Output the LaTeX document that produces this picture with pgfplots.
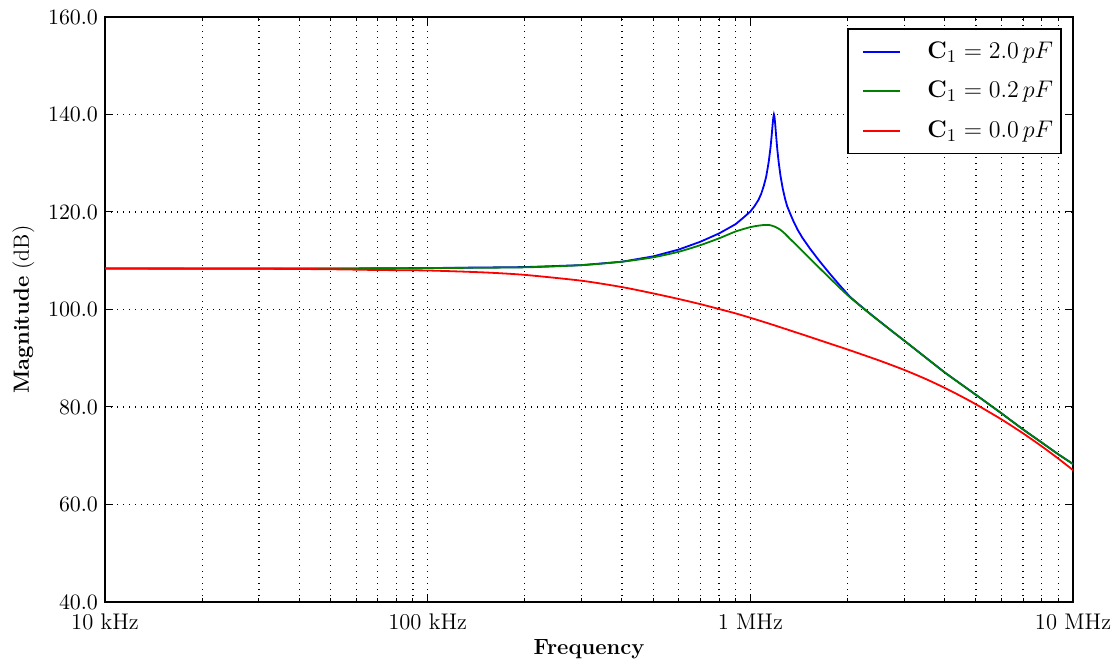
\documentclass[border=0pt]{standalone}
\usepackage{pgfplots}
\pgfplotsset{compat=1.18}
\begin{document}
\begin{tikzpicture}
\useasboundingbox (-52.5pt,-30pt) rectangle (506pt,301pt);
\begin{axis}[
  at={(0pt,0pt)}, anchor=south west,
  scale only axis, width=484pt, height=292.5pt,
  xmode=log, xmin=1e4, xmax=1e7, ymin=40, ymax=160,
  xtick={1e4,1e5,1e6,1e7},
  xticklabels={10 kHz,100 kHz,1 MHz,10 MHz},
  ytick={40,60,80,100,120,140,160},
  yticklabel style={/pgf/number format/.cd, fixed, fixed zerofill, precision=1},
  tick label style={font=\fontsize{11.3}{13}\selectfont},
  xticklabel style={yshift=-2.5pt},
  xmajorgrids, xminorgrids, ymajorgrids,
  grid style={black, line width=0.6pt, dash pattern=on 0.6pt off 2.4pt},
  major grid style={black, line width=0.6pt, dash pattern=on 0.6pt off 2.4pt},
  minor grid style={black, line width=0.6pt, dash pattern=on 0.6pt off 2.4pt},
  tick align=inside,
  major tick length=4pt, minor tick length=2pt,
  tick style={black, line width=0.5pt},
  axis line style={line width=1pt},
  xlabel={\textbf{Frequency}},
  ylabel={\textbf{Magnitude} (dB)},
  label style={font=\fontsize{11}{13}\selectfont},
  xlabel style={yshift=2pt},
  legend cell align=left,
  legend style={at={(rel axis cs:0.9886,0.981)}, anchor=north east,
    font=\fontsize{12.9}{14.5}\selectfont, draw=black, line width=0.9pt,
    inner xsep=2pt, inner ysep=4.5pt, row sep=6pt,
    /tikz/every odd column/.append style={column sep=11.5pt}},
  legend image code/.code={\path (0pt,0pt); \draw[#1] (5pt,0pt) -- (23.5pt,0pt);},
]
\addplot[blue, line width=0.9pt] table {
f v
1e4 108.4
2e4 108.4
5e4 108.4
1e5 108.5
2e5 108.7
3e5 109.1
4e5 109.8
5e5 110.9
6e5 112.3
7e5 113.9
8e5 115.6
9e5 117.5
9.5e5 118.8
1.0e6 120.1
1.03e6 121.2
1.06e6 122.5
1.08e6 123.7
1.1e6 125.3
1.12e6 127.3
1.14e6 130.3
1.155e6 133.3
1.165e6 135.9
1.172e6 137.9
1.178e6 139.4
1.183e6 140.0
1.188e6 139.5
1.194e6 138.0
1.202e6 135.6
1.212e6 132.8
1.225e6 130.0
1.24e6 127.4
1.26e6 124.8
1.28e6 122.8
1.30e6 121.2
1.33e6 119.6
1.36e6 118.1
1.40e6 116.4
1.45e6 114.7
1.53e6 112.5
1.6e6 110.8
1.644e6 109.8
1.765e6 107.3
1.896e6 104.9
2.036e6 102.6
2.186e6 100.85
2.348e6 99.15
2.767e6 95.4
3e6 93.6
4e6 87.1
5e6 82.5
6e6 78.7
7e6 75.4
8e6 72.7
9e6 70.3
1e7 68.3
};
\addlegendentry{$\mathbf{C}_1 = 2.0\,pF$}
\addplot[green!50!black, line width=0.9pt, smooth, tension=0.4] table {
f v
1e4 108.4
5e4 108.4
1e5 108.5
2e5 108.65
3e5 109.1
4e5 109.8
5e5 110.7
6e5 111.85
7e5 113.2
8e5 114.6
9e5 116.0
1.0e6 116.9
1.06e6 117.2
1.1e6 117.33
1.13e6 117.35
1.15e6 117.3
1.19e6 117.0
1.236e6 116.4
1.28e6 115.55
1.327e6 114.5
1.425e6 112.5
1.53e6 110.45
1.644e6 108.4
1.765e6 106.4
1.896e6 104.4
2.036e6 102.5
2.186e6 100.8
2.348e6 99.1
2.767e6 95.4
3e6 93.6
4e6 87.1
5e6 82.5
6e6 78.7
7e6 75.4
8e6 72.7
9e6 70.3
1e7 68.3
};
\addlegendentry{$\mathbf{C}_1 = 0.2\,pF$}
\addplot[red, line width=0.9pt, smooth, tension=0.4] table {
f v
1e4 108.4
3e4 108.35
5e4 108.25
7e4 108.1
1e5 108.0
1.5e5 107.6
2e5 107.1
3e5 105.9
4e5 104.6
5e5 103.3
6e5 102.15
7e5 101.1
8e5 100.1
9e5 99.2
1e6 98.3
1.15e6 97.05
1.3e6 95.9
1.5e6 94.55
1.7e6 93.35
2e6 91.8
2.5e6 89.57
3e6 87.6
3.5e6 85.73
4e6 83.93
4.5e6 82.2
5e6 80.55
6e6 77.46
7e6 74.6
8e6 71.93
9e6 69.42
1e7 67.05
};
\addlegendentry{$\mathbf{C}_1 = 0.0\,pF$}
\end{axis}
\end{tikzpicture}
\end{document}
